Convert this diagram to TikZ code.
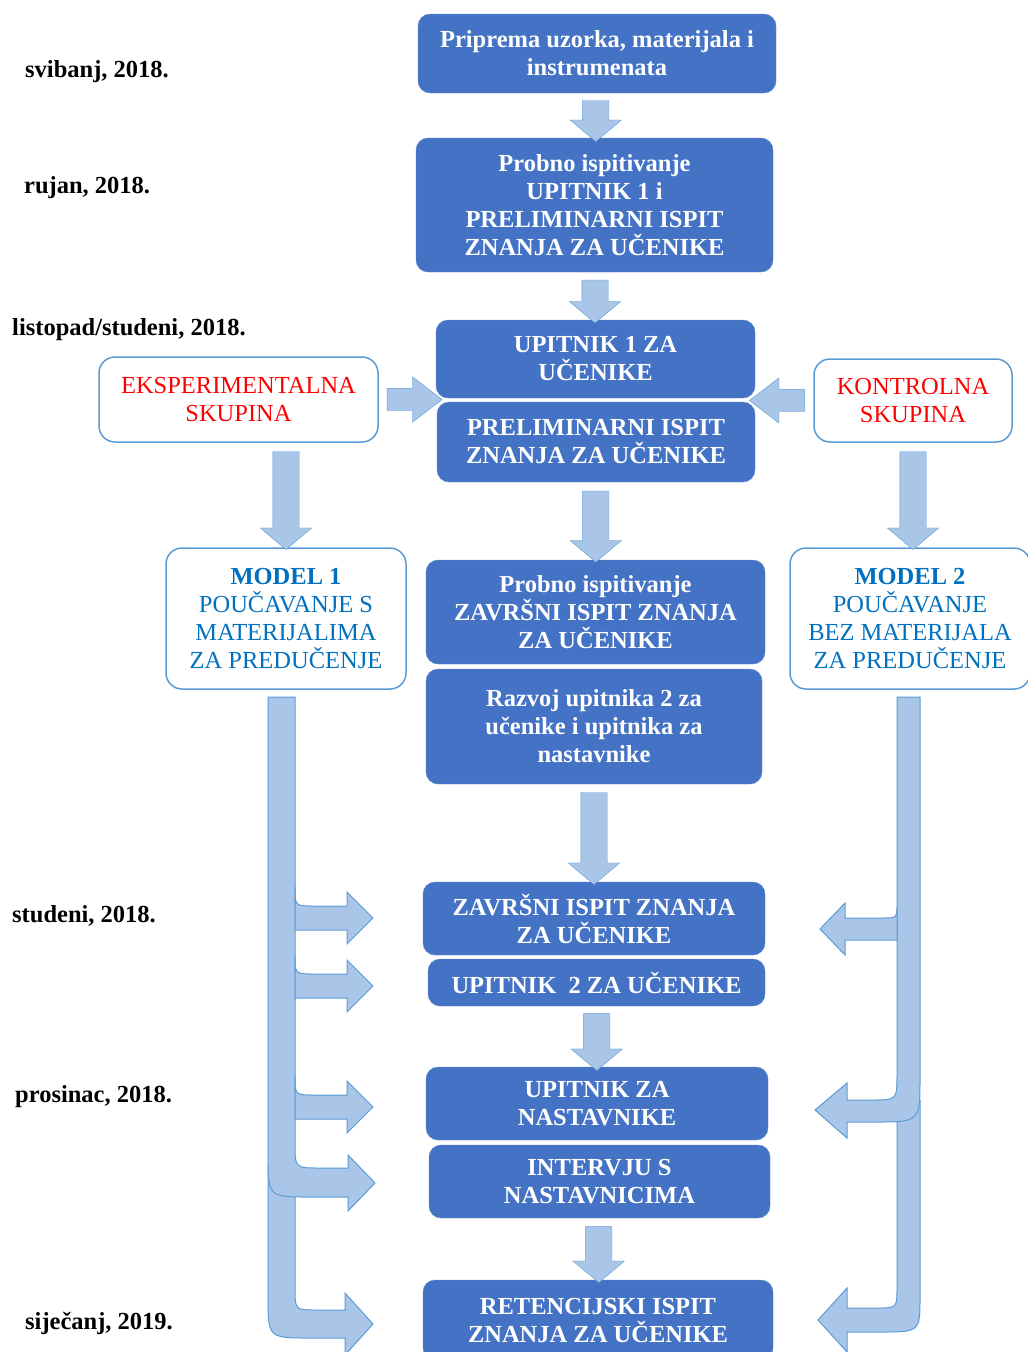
\documentclass[tikz,border=0pt]{standalone}
\usepackage{fontspec}
\setmainfont{Liberation Serif}
\usetikzlibrary{shapes.arrows}

\definecolor{boxblue}{HTML}{4472C4}
\definecolor{edgeblue}{HTML}{5B9BD5}
\definecolor{arrowfill}{HTML}{A9C6E8}
\definecolor{modelblue}{HTML}{0070C0}

\begin{document}
\begin{tikzpicture}[x=1pt,y=-1pt,
		phase/.style={draw=boxblue!85!white, fill=boxblue, rounded corners=12pt, text=white, align=center,
			font=\fontsize{24.5}{28}\selectfont\bfseries, inner sep=0pt},
		group/.style={draw=edgeblue, line width=1.5pt, fill=white, rounded corners=16pt, align=center,
			font=\fontsize{24.5}{28}\selectfont, inner sep=0pt},
		date/.style={anchor=west, font=\fontsize{24.5}{28}\selectfont\bfseries, inner sep=0pt},
		darrow/.style={single arrow, shape border rotate=270, draw=edgeblue, fill=arrowfill,
			inner sep=13pt, single arrow head extend=12.5pt, single arrow tip angle=100},
		harrow/.style={single arrow, draw=edgeblue, fill=arrowfill,
			inner sep=11pt, single arrow head extend=11.5pt, single arrow tip angle=75},
		bent/.style={draw=edgeblue, fill=arrowfill, line width=1pt}]
	\useasboundingbox (0,0) rectangle (1028,1352);

	% datumi
	\node[date] (d1) at (25,72) {svibanj, 2018.};
	\node[date] (d2) at (24,188) {rujan, 2018.};
	\node[date] (d3) at (12,330) {listopad/studeni, 2018.};
	\node[date] (d4) at (12,916) {studeni, 2018.};
	\node[date] (d5) at (15,1097) {prosinac, 2018.};
	\node[date] (d6) at (25,1323) {siječanj, 2019.};

	% srednji stupac
	\node[phase, minimum width=358pt, minimum height=79pt] (pr) at (597,53.5)
		{Priprema uzorka, materijala i\\instrumenata};
	\node[phase, minimum width=357pt, minimum height=134pt] (pb) at (594.5,205)
		{Probno ispitivanje\\UPITNIK 1 i\\PRELIMINARNI ISPIT\\ZNANJA ZA UČENIKE};
	\node[phase, minimum width=319pt, minimum height=78pt] (up1) at (595.5,359)
		{UPITNIK 1 ZA\\UČENIKE};
	\node[phase, minimum width=318pt, minimum height=80pt] (pre) at (596,442)
		{PRELIMINARNI ISPIT\\ZNANJA ZA UČENIKE};
	\node[phase, minimum width=339pt, minimum height=104pt] (pz) at (595.5,612)
		{Probno ispitivanje\\ZAVRŠNI ISPIT ZNANJA\\ZA UČENIKE};
	\node[phase, minimum width=336pt, minimum height=115pt] (rz) at (594,726.5)
		{Razvoj upitnika 2 za\\učenike i upitnika za\\nastavnike};
	\node[phase, minimum width=342pt, minimum height=73pt] (zi) at (594,918.5)
		{ZAVRŠNI ISPIT ZNANJA\\ZA UČENIKE};
	\node[phase, minimum width=337pt, minimum height=47pt] (up2) at (596.5,982.5)
		{UPITNIK\ \ 2 ZA UČENIKE};
	\node[phase, minimum width=342pt, minimum height=73pt] (un) at (597,1103.5)
		{UPITNIK ZA\\NASTAVNIKE};
	\node[phase, minimum width=341pt, minimum height=73pt] (in) at (599.5,1181.5)
		{INTERVJU S\\NASTAVNICIMA};
	\node[phase, minimum width=350pt, minimum height=80pt] (ret) at (598,1320)
		{RETENCIJSKI ISPIT\\ZNANJA ZA UČENIKE};

	% skupine i modeli
	\node[group, text=red, minimum width=279pt, minimum height=85pt] (eks) at (238.5,399.5)
		{EKSPERIMENTALNA\\SKUPINA};
	\node[group, text=red, minimum width=198pt, minimum height=83pt] (kon) at (913,400.5)
		{KONTROLNA\\SKUPINA};
	\node[group, text=modelblue, minimum width=240pt, minimum height=141pt] (m1) at (286,618.5)
		{\textbf{MODEL 1}\\POUČAVANJE S\\MATERIJALIMA\\ZA PREDUČENJE};
	\node[group, text=modelblue, minimum width=240pt, minimum height=141pt] (m2) at (910,618.5)
		{\textbf{MODEL 2}\\POUČAVANJE\\BEZ MATERIJALA\\ZA PREDUČENJE};

	% strelice u stupcu
	\path (pr.south) -- (pb.north) node[midway, darrow, minimum height=41pt] (a1) {};
	\path (pb.south) -- (up1.north) node[midway, darrow, minimum height=43pt] (a2) {};
	\path (pre.south) -- (pz.north) node[midway, darrow, minimum height=71pt] (a3) {};
	\path (rz.south) -- (zi.north) node[midway, darrow, minimum height=92pt] (a4) {};
	\path (up2.south) -- (un.north) node[midway, darrow, minimum height=57pt] (a5) {};
	\path (in.south) -- (ret.north) node[midway, darrow, minimum height=56pt] (a6) {};
	\path (eks.east) -- (eks.east -| up1.west) node[midway, harrow, minimum height=55pt] (a7) {};
	\path (kon.west) -- (kon.west -| up1.east) node[midway, harrow, shape border rotate=180, minimum height=55pt] (a8) {};
	\path (m1.north |- eks.south) -- (m1.north) node[midway, darrow, minimum height=98pt] (a9) {};
	\path (kon.south) -- (kon.south |- m2.north) node[midway, darrow, minimum height=98pt] (a10) {};

	% lijeva grana
	\filldraw[bent] (268,1165) -- (295,1165) -- (295,1288) .. controls (295,1310) .. (317,1310)
		-- (345,1310) -- (345,1293) -- (373,1324) -- (345,1355) -- (345,1338) -- (310,1338)
		.. controls (268,1338) .. (268,1296) -- cycle;
	\filldraw[bent] (268,697) -- (295,697) -- (295,1143) .. controls (295,1168) .. (320,1168)
		-- (348,1168) -- (348,1155) -- (375,1183) -- (348,1211) -- (348,1197) -- (310,1197)
		.. controls (268,1197) .. (268,1155) -- cycle;
	\filldraw[bent] (295,887) .. controls (295,906) .. (314,906) -- (347,906) -- (347,892)
		-- (373,918) -- (347,944) -- (347,930) -- (295,930) -- cycle;
	\filldraw[bent] (295,955) .. controls (295,974) .. (314,974) -- (347,974) -- (347,960)
		-- (373,986) -- (347,1012) -- (347,998) -- (295,998) -- cycle;
	\filldraw[bent] (295,1076) .. controls (295,1095) .. (314,1095) -- (347,1095) -- (347,1081)
		-- (373,1107) -- (347,1133) -- (347,1119) -- (295,1119) -- cycle;

	% desna grana
	\filldraw[bent] (897,1100) -- (920,1100) -- (920,1297) .. controls (920,1332) .. (880,1332)
		-- (847,1332) -- (847,1352) -- (818,1320) -- (847,1288) -- (847,1308) -- (877,1308)
		.. controls (897,1308) .. (897,1287) -- cycle;
	\filldraw[bent] (897,697) -- (920,697) -- (920,1077) .. controls (920,1122) .. (875,1122)
		-- (847,1122) -- (847,1138) -- (815,1110) -- (847,1083) -- (847,1100) -- (873,1100)
		.. controls (897,1100) .. (897,1073) -- cycle;
	\filldraw[bent] (897,907) .. controls (897,918) .. (880,918) -- (845,918) -- (845,903)
		-- (820,929) -- (845,955) -- (845,940) -- (897,940) -- cycle;
\end{tikzpicture}
\end{document}
